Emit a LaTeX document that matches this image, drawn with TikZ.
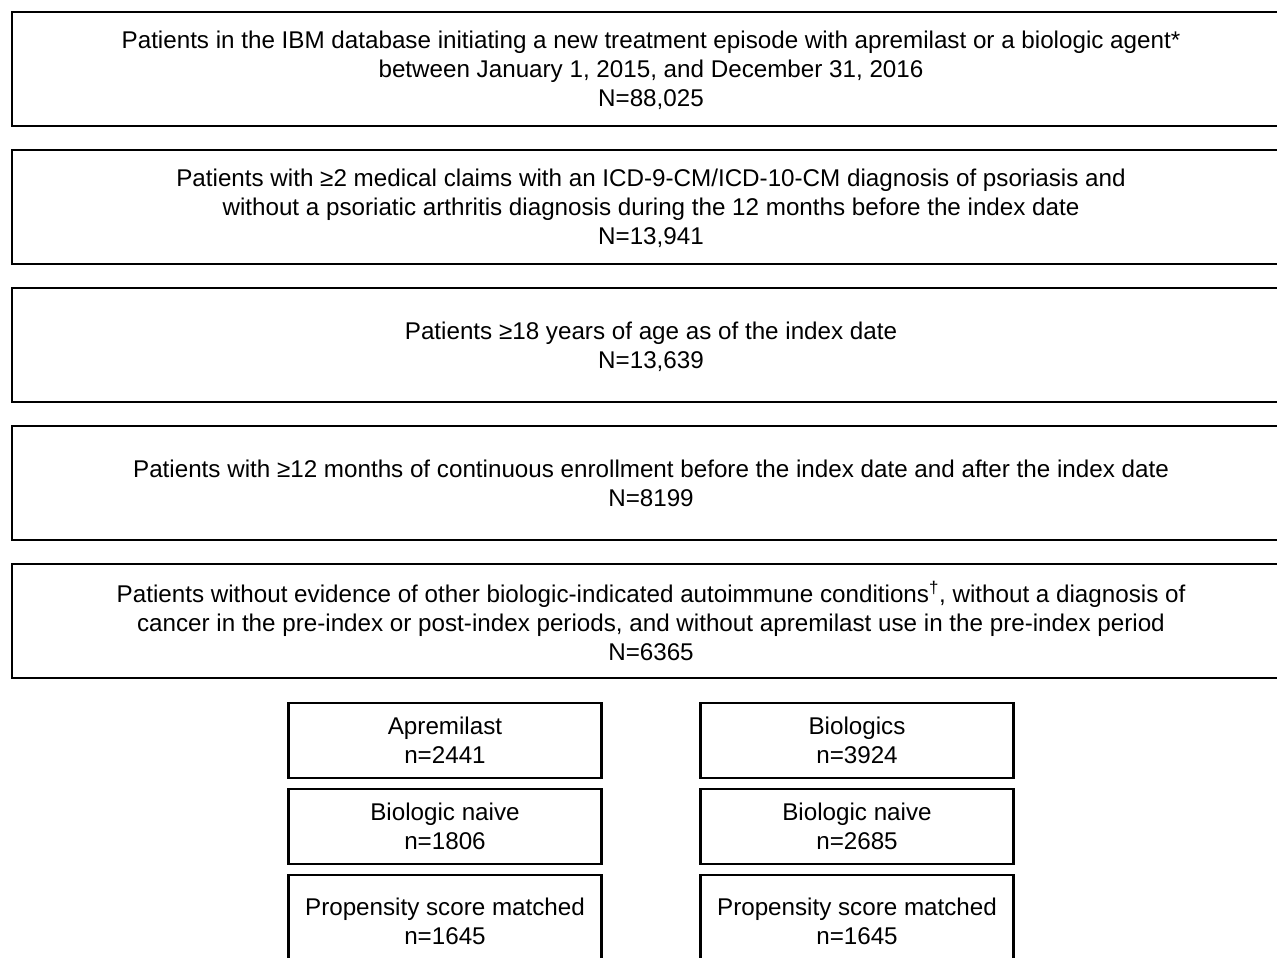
\documentclass[tikz,border=0pt]{standalone}
\usepackage{fontspec}
\setmainfont{Liberation Sans}
\begin{document}
\begin{tikzpicture}[x=1pt,y=-1pt,
  box/.style={draw, line width=2.6pt, inner sep=0pt, align=center, font=\fontsize{24.2}{29}\selectfont, text depth=0pt},
  big/.style={box, minimum width=1278pt, minimum height=114pt},
  small/.style={box, minimum width=313pt, minimum height=75pt}]
\clip (0,0) rectangle (1277,958);
\node[big] (b1) at (651,69) {Patients in the IBM database initiating a new treatment episode with apremilast or a biologic agent*\\between January 1, 2015, and December 31, 2016\\N=88,025};
\node[big] (b2) at (651,207) {Patients with ≥2 medical claims with an ICD-9-CM/ICD-10-CM diagnosis of psoriasis and\\without a psoriatic arthritis diagnosis during the 12 months before the index date\\N=13,941};
\node[big] (b3) at (651,345) {Patients ≥18 years of age as of the index date\\N=13,639};
\node[big] (b4) at (651,483) {Patients with ≥12 months of continuous enrollment before the index date and after the index date\\N=8199};
\node[big] (b5) at (651,621) {Patients without evidence of other biologic-indicated autoimmune conditions\textsuperscript{†}, without a diagnosis of\\cancer in the pre-index or post-index periods, and without apremilast use in the pre-index period\\N=6365};
\node[small] (a1) at (445,740.5) {Apremilast\\n=2441};
\node[small] (a2) at (445,826.5) {Biologic naive\\n=1806};
\node[small, minimum height=93pt] (a3) at (445,921.5) {Propensity score matched\\n=1645};
\node[small] (c1) at (857,740.5) {Biologics\\n=3924};
\node[small] (c2) at (857,826.5) {Biologic naive\\n=2685};
\node[small, minimum height=93pt] (c3) at (857,921.5) {Propensity score matched\\n=1645};
\end{tikzpicture}
\end{document}
